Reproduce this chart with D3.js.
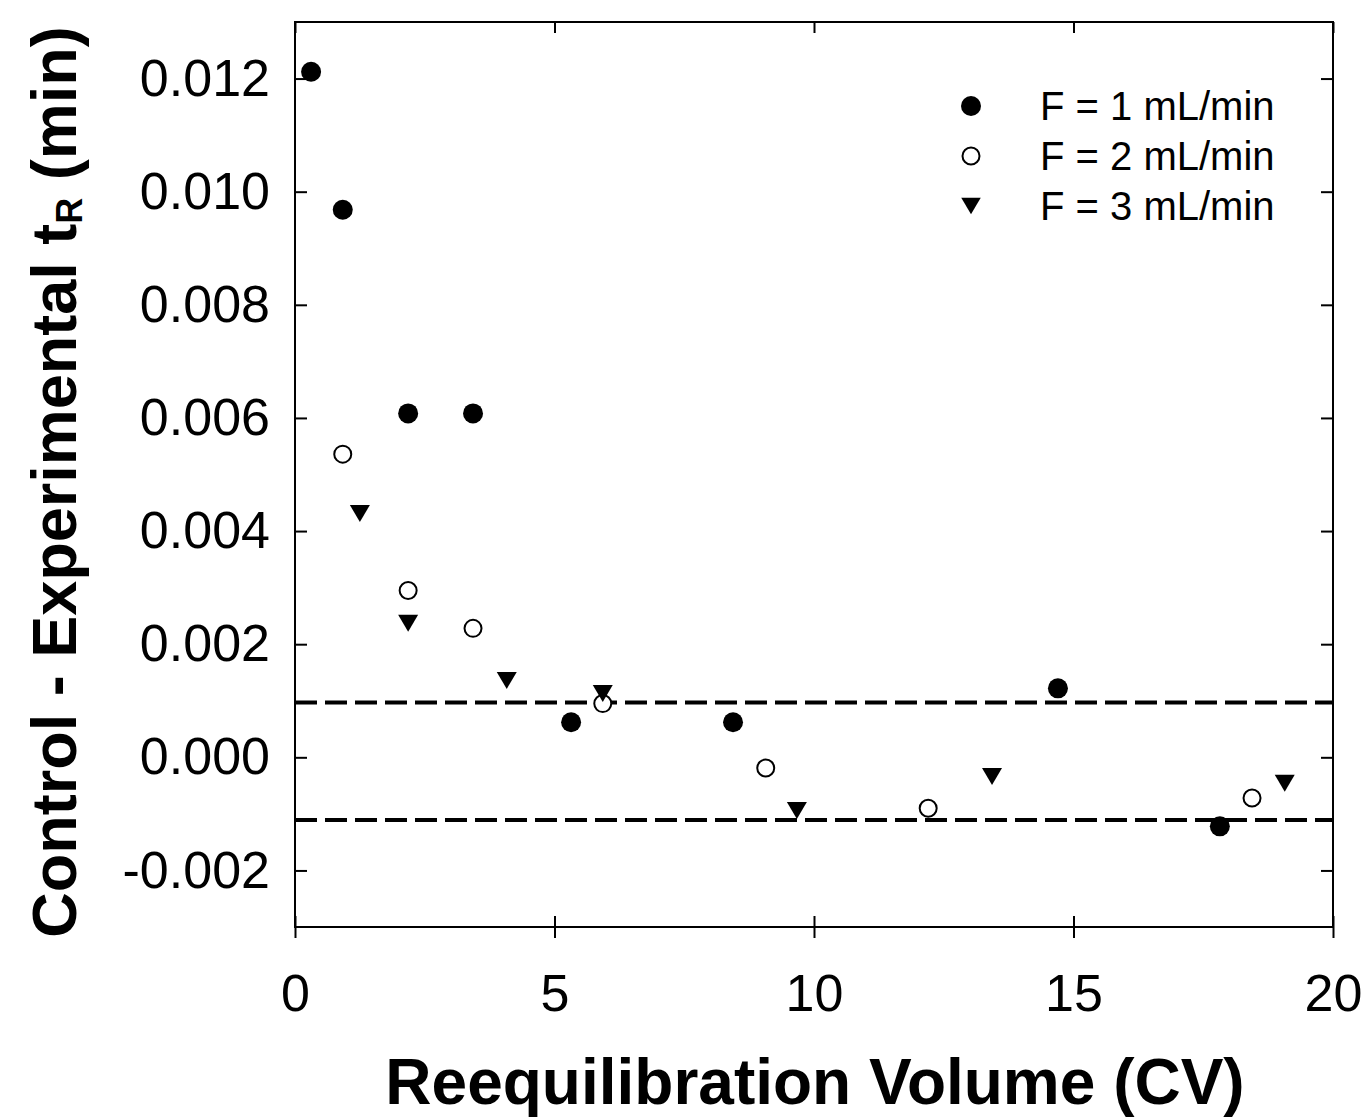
<!DOCTYPE html>
<html>
<head>
<meta charset="utf-8">
<script src="https://cdn.jsdelivr.net/npm/d3@7"></script>
<style>
  body { margin: 0; background: #fff; }
  svg { font-family: "Liberation Sans", Arial, sans-serif; }
</style>
</head>
<body>
<div id="chart"></div>
<script>
// data
var f1_x = [0.31, 0.92, 2.18, 3.43, 5.32, 8.44, 14.70, 17.82];
var f1_y = [0.01212, 0.00968, 0.00608, 0.00608, 0.00062, 0.00062, 0.00122, -0.00122];

var f2_x = [0.92, 2.18, 3.43, 5.93, 9.07, 12.20, 18.44];
var f2_y = [0.00536, 0.00295, 0.00228, 0.00095, -0.00019, -0.00090, -0.00072];

var f3_x = [1.25, 2.18, 4.08, 5.93, 9.67, 13.43, 19.07];
var f3_y = [0.00431, 0.00237, 0.00136, 0.00113, -0.00094, -0.00034, -0.00046];

var limitLines = [0.00097, -0.00111];

var xTicks = [0, 5, 10, 15, 20];
var yTicks = [-0.002, 0.000, 0.002, 0.004, 0.006, 0.008, 0.010, 0.012];

var legendLabels = ["F = 1 mL/min", "F = 2 mL/min", "F = 3 mL/min"];

// dimensions
var svgWidth = 1365, svgHeight = 1118;
var margin = { top: 22, left: 295 };
var width = 1038, height = 905;

var svg = d3.select("#chart")
  .append("svg")
    .attr("width", svgWidth)
    .attr("height", svgHeight);

var g = svg.append("g")
  .attr("transform", `translate(${margin.left}, ${margin.top})`);

var x = d3.scaleLinear().domain([0, 20]).range([0, width]);
var y = d3.scaleLinear().domain([-0.003, 0.013]).range([height, 0]);

var fmtY = function(d) { return d3.format(".3f")(d).replace("\u2212", "-"); };

// down-pointing triangle centred on its bounding box
var triDown = {
  draw: function(ctx, size) {
    var w = Math.sqrt(size);
    var h = w * 0.85;
    ctx.moveTo(-w / 2, -h / 2);
    ctx.lineTo(w / 2, -h / 2);
    ctx.lineTo(0, h / 2);
    ctx.closePath();
  }
};

// axes
g.append("g")
  .attr("transform", `translate(0, ${height})`)
  .call(d3.axisBottom(x).tickValues(xTicks).tickSizeInner(11).tickSizeOuter(0).tickPadding(36))
  .call(a => a.selectAll("text").attr("font-size", 52).attr("font-family", "Liberation Sans, Arial, sans-serif"));

g.append("g")
  .attr("transform", `translate(0, ${height})`)
  .call(d3.axisBottom(x).tickValues(xTicks).tickSizeInner(-11).tickSizeOuter(0).tickFormat(""));

g.append("g")
  .call(d3.axisLeft(y).tickValues(yTicks).tickSizeInner(-12).tickSizeOuter(0).tickPadding(25).tickFormat(fmtY))
  .call(a => a.selectAll("text").attr("font-size", 52).attr("font-family", "Liberation Sans, Arial, sans-serif"));

g.append("g")
  .attr("transform", `translate(${width}, 0)`)
  .call(d3.axisRight(y).tickValues(yTicks).tickSizeInner(-12).tickSizeOuter(0).tickFormat(""));

g.append("g")
  .call(d3.axisTop(x).tickValues(xTicks).tickSizeInner(-11).tickSizeOuter(0).tickFormat(""));

g.selectAll(".domain").remove();
g.selectAll(".tick line").attr("stroke", "#000").attr("stroke-width", 2);
g.selectAll(".tick text").attr("fill", "#000");

// frame
g.append("rect")
  .attr("width", width)
  .attr("height", height)
  .attr("fill", "none")
  .attr("stroke", "#000")
  .attr("stroke-width", 2);

// dashed limit lines
g.selectAll(".limit")
  .data(limitLines)
  .enter()
  .append("line")
    .attr("class", "limit")
    .attr("x1", x(0))
    .attr("x2", x(20))
    .attr("y1", d => y(d))
    .attr("y2", d => y(d))
    .attr("stroke", "#000")
    .attr("stroke-width", 4)
    .attr("stroke-dasharray", "22,8");

// points
var s1 = f1_x.map((v, i) => ({ x: v, y: f1_y[i] }));
var s2 = f2_x.map((v, i) => ({ x: v, y: f2_y[i] }));
var s3 = f3_x.map((v, i) => ({ x: v, y: f3_y[i] }));

g.selectAll(".f1")
  .data(s1)
  .enter()
  .append("circle")
    .attr("cx", d => x(d.x))
    .attr("cy", d => y(d.y))
    .attr("r", 10)
    .attr("fill", "#000");

g.selectAll(".f2")
  .data(s2)
  .enter()
  .append("circle")
    .attr("cx", d => x(d.x))
    .attr("cy", d => y(d.y))
    .attr("r", 8.5)
    .attr("fill", "#fff")
    .attr("stroke", "#000")
    .attr("stroke-width", 2);

g.selectAll(".f3")
  .data(s3)
  .enter()
  .append("path")
    .attr("d", d3.symbol().type(triDown).size(400))
    .attr("transform", d => `translate(${x(d.x)}, ${y(d.y)})`)
    .attr("fill", "#000");

// legend
var legend = svg.append("g").attr("transform", "translate(971, 106)");
legendLabels.forEach(function(label, i) {
  var row = legend.append("g").attr("transform", `translate(0, ${i * 50})`);
  if (i == 0) {
    row.append("circle").attr("r", 10).attr("fill", "#000");
  } else if (i == 1) {
    row.append("circle").attr("r", 8.5).attr("fill", "#fff").attr("stroke", "#000").attr("stroke-width", 2);
  } else {
    row.append("path").attr("d", d3.symbol().type(triDown).size(380)).attr("fill", "#000");
  }
  row.append("text")
    .attr("x", 69)
    .attr("y", 14)
    .attr("font-size", 40)
    .text(label);
});

// axis titles
svg.append("text")
  .attr("x", 815)
  .attr("y", 1104)
  .attr("text-anchor", "middle")
  .attr("font-size", 64)
  .attr("font-weight", "bold")
  .text("Reequilibration Volume (CV)");

var yTitle = svg.append("text")
  .attr("transform", "translate(76, 482) rotate(-90)")
  .attr("text-anchor", "middle")
  .attr("font-size", 63)
  .attr("font-weight", "bold");
yTitle.append("tspan").text("Control - Experimental t");
yTitle.append("tspan").attr("font-size", 36).attr("dy", 6).text("R");
yTitle.append("tspan").attr("dy", -6).text(" (min)");
</script>
</body>
</html>
